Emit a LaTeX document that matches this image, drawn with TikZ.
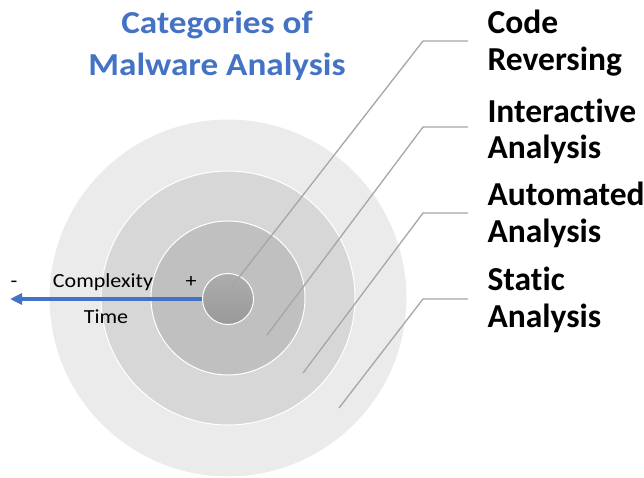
\documentclass[tikz,border=0pt]{standalone}
\usepackage{fontspec}
\setmainfont{Carlito}[FakeStretch=1.1, Ligatures=NoCommon]
\newfontfamily\labelfont{Carlito}[Ligatures=NoCommon]
\usetikzlibrary{arrows.meta}
\definecolor{titleblue}{HTML}{4472C4}
\definecolor{ringA}{HTML}{EBEBEB}
\definecolor{ringB}{HTML}{D7D7D7}
\definecolor{ringC}{HTML}{C0C0C0}
\definecolor{ringDtop}{HTML}{ADADAD}
\definecolor{ringDbot}{HTML}{999999}
\definecolor{leadergray}{HTML}{A6A6A6}
\tikzset{
  ring/.style={circle, inner sep=0pt, draw=white, line width=1pt},
  titletext/.style={anchor=base, text=titleblue, font=\fontsize{32}{38}\selectfont\bfseries},
  labeltext/.style={anchor=base west, font=\labelfont\fontsize{33.5}{40}\selectfont\bfseries},
  smalltext/.style={anchor=base, font=\fontsize{20}{24}\selectfont},
  leader/.style={draw=leadergray, line width=1.3pt},
  axisarrow/.style={draw=titleblue, line width=3.5pt, -{Triangle[length=12pt,width=11pt]}}
}
\begin{document}
\begin{tikzpicture}[x=1pt,y=-1pt]
\useasboundingbox (0,0) rectangle (644,477);
\fill[white] (0,0) rectangle (644,477);
% concentric circles
\node[ring, minimum size=358pt, fill=ringA] (r1) at (228,298) {};
\node[ring, minimum size=254pt, fill=ringB] (r2) at (228,298) {};
\node[ring, minimum size=154pt, fill=ringC] (r3) at (228,298) {};
\node[ring, minimum size=51pt, top color=ringDtop, bottom color=ringDbot] (r4) at (228,299) {};
% title
\node[titletext] (t1) at (217,33) {Categories of};
\node[titletext] (t2) at (217,75) {Malware Analysis};
% labels
\node[labeltext] (l1a) at (484,33) {Code};
\node[labeltext] (l1b) at (484,70) {Reversing};
\node[labeltext] (l2a) at (484,122) {Interactive};
\node[labeltext] (l2b) at (484,158) {Analysis};
\node[labeltext] (l3a) at (484,205) {Automated};
\node[labeltext] (l3b) at (484,242) {Analysis};
\node[labeltext] (l4a) at (484,290) {Static};
\node[labeltext] (l4b) at (484,327) {Analysis};
% leader lines
\coordinate (a1) at (226,294); \coordinate (b1) at (423,41); \coordinate (c1) at (468,41);
\coordinate (a2) at (267,335); \coordinate (b2) at (423,127); \coordinate (c2) at (468,127);
\coordinate (a3) at (303,373); \coordinate (b3) at (423,213); \coordinate (c3) at (468,213);
\coordinate (a4) at (339,408); \coordinate (b4) at (423,299); \coordinate (c4) at (468,299);
\draw[leader] (a1) -- (b1) -- (c1);
\draw[leader] (a2) -- (b2) -- (c2);
\draw[leader] (a3) -- (b3) -- (c3);
\draw[leader] (a4) -- (b4) -- (c4);
% axis
\coordinate (tip) at (10,299);
\draw[axisarrow] (r4.west) -- (tip);
\node[smalltext] (minus) at (14,287) {-};
\node[smalltext] (cx) at (103,287) {Complexity};
\node[smalltext] (plus) at (191,287) {+};
\node[smalltext] (tm) at (106,323) {Time};
\end{tikzpicture}
\end{document}
